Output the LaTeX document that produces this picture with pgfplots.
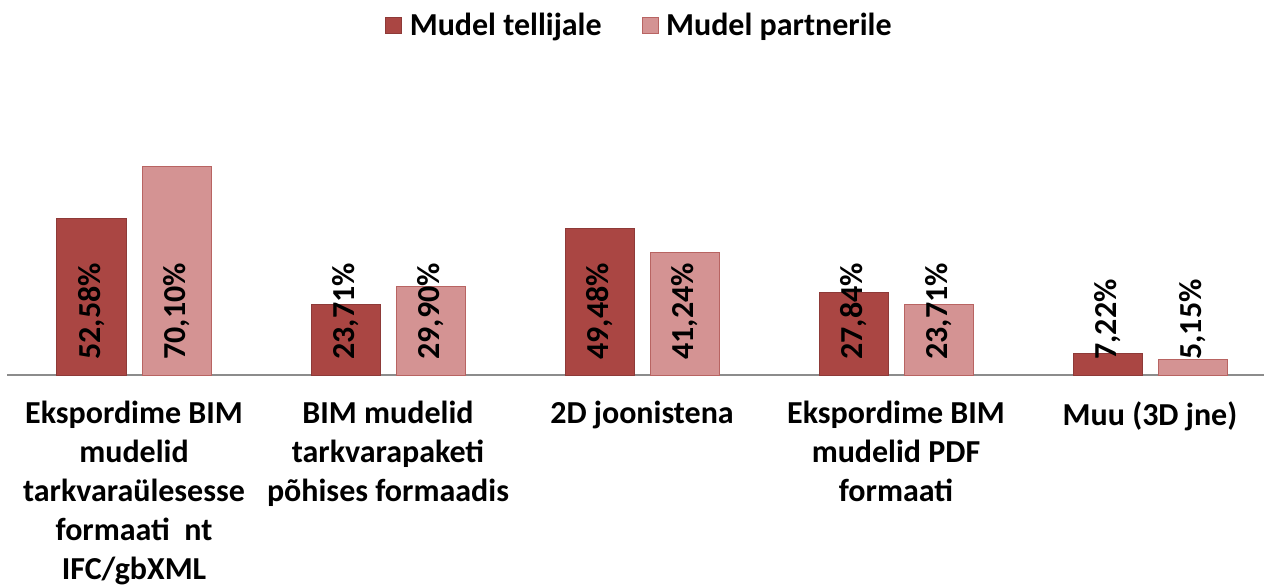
\documentclass[border=0pt]{standalone}
\usepackage{pgfplots}
\pgfplotsset{compat=1.18}
\usepackage{fontspec}
\setmainfont{Carlito}
\definecolor{darkred}{HTML}{AA4643}
\definecolor{darkredb}{HTML}{8E3A38}
\definecolor{pinkr}{HTML}{D49393}
\definecolor{pinkrb}{HTML}{B86462}
\definecolor{axisgray}{HTML}{8C8C8C}
\begin{document}
\begin{tikzpicture}
\begin{axis}[name=ax,
  scale only axis, width=1257.3pt, height=237.4pt,
  xmin=-0.5, xmax=4.45, ymin=0, ymax=80,
  ybar=16pt, bar width=69pt,
  axis x line*=bottom, axis y line=none,
  x axis line style={draw=axisgray, line width=1.5pt, -},
  xtick={0,1,2,3,4},
  xticklabels={{Ekspordime BIM\\mudelid\\tarkvaraülesesse\\formaati~ nt\\IFC/gbXML},
               {BIM mudelid\\tarkvarapaketi\\põhises formaadis},
               {2D joonistena},
               {Ekspordime BIM\\mudelid PDF\\formaati},
               {Muu (3D jne)}},
  major tick length=0pt,
  xticklabel style={align=center, font=\fontsize{32}{39}\selectfont\bfseries, yshift=-23pt},
  nodes near coords={\pgfmathprintnumber[fixed, fixed zerofill, precision=2, use comma, assume math mode=true]{\pgfplotspointmeta}\%},
  visualization depends on={rawy \as \rawy},
  every node near coord/.append style={shift={(axis direction cs:0,-\rawy)}, yshift=15pt, rotate=90, anchor=west, inner sep=0pt, font=\fontsize{32}{36}\selectfont\bfseries, text=black},
  clip=false,
  legend columns=2,
  legend image code/.code={\draw[#1] (0pt,-8pt) rectangle (16pt,8pt); \path[draw=none,fill=none] (0pt,0pt) -- (22pt,0pt);},
  legend style={at={(0.503,1.474)}, anchor=center, draw=none, fill=none,
    font=\fontsize{32}{36}\selectfont\bfseries,
    /tikz/every even column/.append style={column sep=38pt}},
]
\addplot[fill=darkred, draw=darkredb, line width=1pt] coordinates {(0,52.58) (1,23.71) (2,49.48) (3,27.84) (4,7.22)};
\addplot[fill=pinkr, draw=pinkrb, line width=1pt] coordinates {(0,70.10) (1,29.90) (2,41.24) (3,23.71) (4,5.15)};
\legend{Mudel tellijale, Mudel partnerile}
\end{axis}
\pgfresetboundingbox
\path (ax.south west) ++(-7pt,-211pt) rectangle ++(1264pt,586pt);
\end{tikzpicture}
\end{document}
